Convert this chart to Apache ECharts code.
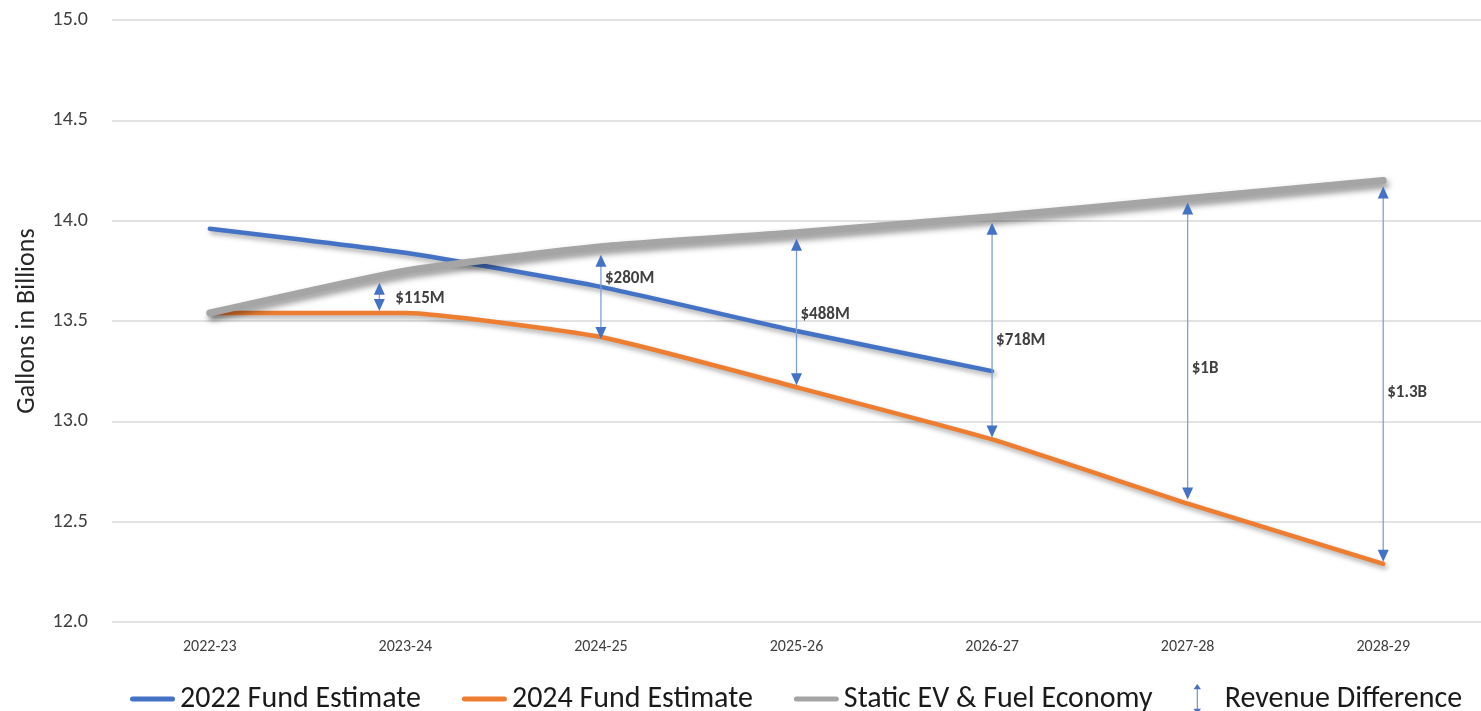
<!DOCTYPE html>
<html>
<head>
<meta charset="utf-8">
<script src="https://cdn.jsdelivr.net/npm/echarts@6/dist/echarts.min.js"></script>
<style>
  html, body { margin: 0; padding: 0; background: #fff; }
  #eChart { width: 1481px; height: 711px; }
</style>
</head>
<body>
<div id="eChart"></div>
<script>
const categories = ["2022-23", "2023-24", "2024-25", "2025-26", "2026-27", "2027-28", "2028-29"];
const fund2022 = [13.96, 13.84, 13.67, 13.45, 13.25, null, null];
const fund2024 = [13.54, 13.54, 13.42, 13.17, 12.91, 12.59, 12.29];
const staticEv = [13.54, 13.75, 13.87, 13.94, 14.02, 14.11, 14.2];

// revenue difference arrows (gray line down to orange line)
const revCategories = ["2023-24", "2024-25", "2025-26", "2026-27", "2027-28", "2028-29"];
const revTop = [13.69, 13.83, 13.91, 13.99, 14.09, 14.17];
const revBottom = [13.55, 13.41, 13.18, 12.92, 12.61, 12.3];
const revLabelAt = [13.61, 13.71, 13.53, 13.4, 13.26, 13.14];
const revLabels = ["$115M", "$280M", "$488M", "$718M", "$1B", "$1.3B"];

const FONT = 'Carlito, Calibri, "Liberation Sans", sans-serif';
const BLUE = "#4472C4";
const ORANGE = "#ED7D31";
const GRAY = "#A5A5A5";

const barIcon = "path://M2.5,0 L42.5,0 A2.5,2.5 0 0 1 42.5,5 L2.5,5 A2.5,2.5 0 0 1 2.5,0 Z";
const arrowIcon = "path://M5,0 L10,7 L5.6,7 L5.6,33 L10,33 L5,40 L0,33 L4.4,33 L4.4,7 L0,7 Z";

const lineShadow = {
  shadowColor: "rgba(0,0,0,0.35)",
  shadowBlur: 5,
  shadowOffsetX: 2,
  shadowOffsetY: 3,
};

function renderArrow(params, api) {
  const i = params.dataIndex;
  const catIdx = categories.indexOf(revCategories[i]);
  // first arrow sits a little left of its category, like the original
  const shift = i === 0 ? -26 : 0;
  const top = api.coord([catIdx, api.value(1)]);
  const bot = api.coord([catIdx, api.value(2)]);
  const lab = api.coord([catIdx, api.value(3)]);
  const x = top[0] + shift;
  const head = 12;
  const hw = 5.5;
  return {
    type: "group",
    children: [
      {
        type: "line",
        shape: { x1: x, y1: top[1] + head - 1, x2: x, y2: bot[1] - head + 1 },
        style: { stroke: "#7F9FD8", lineWidth: 1.3 },
      },
      {
        type: "polygon",
        shape: { points: [[x, top[1]], [x - hw, top[1] + head], [x + hw, top[1] + head]] },
        style: { fill: BLUE },
      },
      {
        type: "polygon",
        shape: { points: [[x, bot[1]], [x - hw, bot[1] - head], [x + hw, bot[1] - head]] },
        style: { fill: BLUE },
      },
      {
        type: "text",
        style: {
          text: revLabels[i],
          x: x + (i === 0 ? 16 : 4),
          y: lab[1],
          verticalAlign: "middle",
          align: "left",
          font: "bold 17px " + FONT,
          fill: "#404040",
        },
      },
    ],
  };
}

const option = {
  animation: false,
  backgroundColor: "#fff",
  textStyle: { fontFamily: FONT },
  grid: { left: 112, top: 20, width: 1372, bottom: 89 },
  legend: {
    left: 125,
    top: 679,
    itemWidth: 45,
    itemHeight: 30,
    itemGap: 41,
    textStyle: { fontSize: 30, color: "#1a1a1a", fontFamily: FONT },
    data: [
      { name: "2022 Fund Estimate", icon: barIcon },
      { name: "2024 Fund Estimate", icon: barIcon },
      { name: "Static EV & Fuel Economy", icon: barIcon },
      { name: "Revenue Difference", icon: arrowIcon },
    ],
  },
  xAxis: {
    type: "category",
    data: categories,
    boundaryGap: true,
    axisLine: { show: false },
    axisTick: { show: false },
    axisLabel: { color: "#404040", fontSize: 16, margin: 17, fontFamily: FONT },
  },
  yAxis: {
    type: "value",
    min: 12,
    max: 15,
    interval: 0.5,
    name: "Gallons in Billions",
    nameLocation: "middle",
    nameGap: 72,
    nameTextStyle: { fontSize: 26, color: "#262626", fontFamily: FONT },
    axisLine: { show: false },
    axisTick: { show: false },
    axisLabel: {
      color: "#404040",
      fontSize: 20,
      margin: 24,
      fontFamily: FONT,
      formatter: (v) => v.toFixed(1),
    },
    splitLine: { lineStyle: { color: "#D9D9D9", width: 1.5 } },
  },
  series: [
    {
      name: "2022 Fund Estimate",
      type: "line",
      data: fund2022,
      smooth: 0.15,
      showSymbol: false,
      color: BLUE,
      lineStyle: { width: 4.5, color: BLUE, cap: "round", ...lineShadow },
      z: 2,
    },
    {
      name: "2024 Fund Estimate",
      type: "line",
      data: fund2024,
      smooth: 0.15,
      showSymbol: false,
      color: ORANGE,
      lineStyle: { width: 4.5, color: ORANGE, cap: "round", ...lineShadow },
      z: 3,
    },
    {
      name: "Static EV & Fuel Economy",
      type: "line",
      data: staticEv,
      smooth: 0.15,
      showSymbol: false,
      color: GRAY,
      lineStyle: {
        width: 7,
        color: GRAY,
        cap: "round",
        shadowColor: "rgba(0,0,0,0.45)",
        shadowBlur: 6,
        shadowOffsetX: 2,
        shadowOffsetY: 4,
      },
      z: 4,
    },
    {
      name: "Revenue Difference",
      type: "custom",
      color: BLUE,
      itemStyle: { color: BLUE },
      renderItem: renderArrow,
      data: revCategories.map((c, i) => [categories.indexOf(c), revTop[i], revBottom[i], revLabelAt[i]]),
      z: 10,
    },
  ],
};

const myChart = echarts.init(document.getElementById("eChart"), null, { renderer: "canvas" });
myChart.setOption(option);
</script>
</body>
</html>
